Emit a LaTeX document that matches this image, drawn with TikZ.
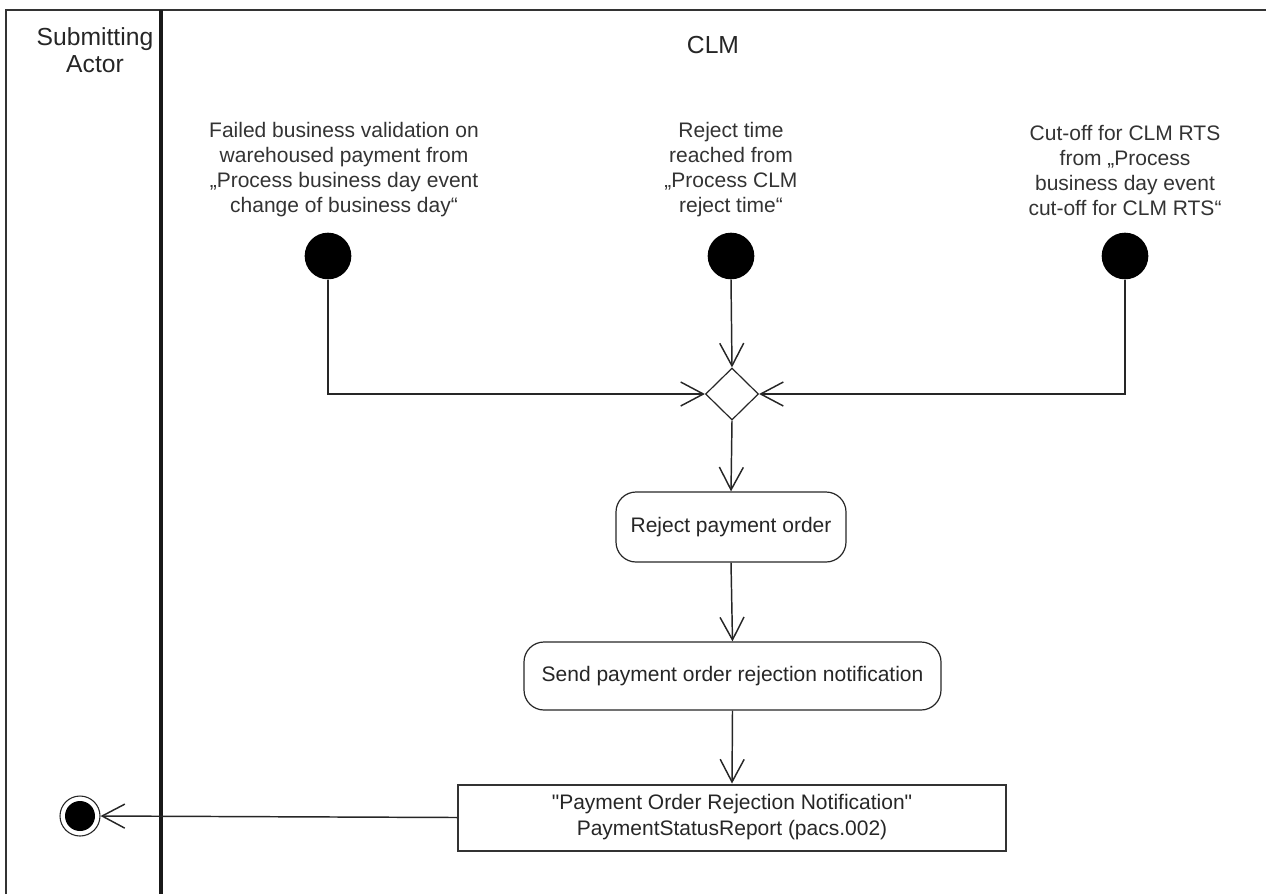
\documentclass[tikz,border=0pt]{standalone}
\usepackage{fontspec}
\setmainfont{Liberation Sans}
\newfontfamily\msgfont{Liberation Sans}
\usetikzlibrary{arrows.meta,shapes.geometric}
\begin{document}
\begin{tikzpicture}[x=0.75pt,y=-0.75pt,
  lane/.style={draw=black!80, line width=2pt},
  conn/.style={draw=black!85, line width=1.1pt, -{Straight Barb[length=17pt,width=18pt,line width=1.1pt]}},
  startdot/.style={circle, fill=black, inner sep=0pt, minimum size=35pt},
  lbl/.style={align=center, inner sep=0pt, text=black!80, font=\fontsize{15.75}{18.75}\selectfont},
  head/.style={align=center, inner sep=0pt, text=black!85, font=\fontsize{18.5}{20.5}\selectfont},
  action/.style={draw=black!85, line width=0.9pt, rounded corners=15pt, align=center, inner sep=0pt, text=black!85, font=\fontsize{15.75}{18.75}\selectfont},
  msg/.style={draw=black!80, line width=1.5pt, align=center, inner sep=0pt, text=black!85, font=\msgfont\fontsize{15.75}{19.5}\selectfont},
  merge/.style={diamond, draw=black!85, line width=0.9pt, inner sep=0pt, minimum width=39.75pt, minimum height=39pt}
]
\useasboundingbox (0,0) rectangle (1266,894);
% swimlane frame
\draw[lane] (6,894) -- (6,10) -- (1266,10);
\draw[lane, line width=2.4pt, draw=black!90] (161,10) -- (161,894);
\node[head] (h1) at (95,50) {Submitting\\Actor};
\node[head] (h2) at (713,45) {CLM};
% start points and labels
\node[lbl] (t1) at (344,170) {Failed business validation on\\warehoused payment from\\„Process business day event\\change of business day“};
\node[lbl] (t2) at (731,170) {Reject time\\reached from\\„Process CLM\\reject time“};
\node[lbl] (t3) at (1125,170) {Cut-off for CLM RTS\\from „Process\\business day event\\cut-off for CLM RTS“};
\node[startdot] (s1) at (328,256) {};
\node[startdot] (s2) at (731,256) {};
\node[startdot] (s3) at (1125,256) {};
% merge
\node[merge] (d) at (732,394) {};
% actions
\node[action, minimum width=172.5pt, minimum height=52.5pt] (r1) at (731,527) {Reject payment order};
\node[action, minimum width=312.75pt, minimum height=51pt] (r2) at (732.5,676) {Send payment order rejection notification};
\node[msg, minimum width=411pt, minimum height=49.5pt] (m) at (732,817.5) {"Payment Order Rejection Notification"\\PaymentStatusReport (pacs.002)};
% end point
\node[circle, draw=black!85, line width=0.8pt, minimum size=30pt, inner sep=0pt] (e) at (80,816) {};
\fill[black] (e.center) circle (11.25pt);
% connectors
\draw[conn] (s1.south) |- (d.west);
\draw[conn] (s2.south) -- (d.north);
\draw[conn] (s3.south) |- (d.east);
\draw[conn] (d.south) -- (r1.north);
\draw[conn] (r1.south) -- (r2.north);
\draw[conn] (r2.south) -- (m.north);
\draw[conn] (m.west) -- (e.east);
\end{tikzpicture}
\end{document}
